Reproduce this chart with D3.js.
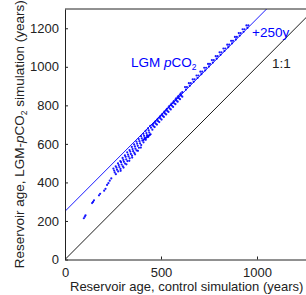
<!DOCTYPE html>
<html><head><meta charset="utf-8">
<script src="https://cdn.jsdelivr.net/npm/d3@7"></script>
<style>html,body{margin:0;padding:0;background:#fff;overflow:hidden}</style>
</head><body><svg id="c" width="306" height="295"></svg>
<script>
// Data
const xTicks = [0, 500, 1000];
const yTicks = [0, 200, 400, 600, 800, 1000, 1200];
const axisMax = 1300;
const offsetYears = 250;
const ctrlAge = [
  98,103,107,141,146,151,177,183,204,211,219,226,233,241,
  252,264,276,288,300,312,324,336,348,360,372,384,396,408,420,432,444,
  256,268,280,292,304,316,328,340,352,364,376,388,400,412,424,436,448,
  259,271,283,295,307,319,331,343,355,367,379,391,403,415,427,439,
  265,277,289,301,313,325,337,349,361,373,385,397,409,421,433,
  290,305,320,335,350,365,380,395,
  408,413,418,423,428,433,438,443,446,
  455,467,479,491,503,515,527,539,551,563,575,587,599,611,
  461,473,485,497,509,521,533,545,557,569,581,593,605,
  455,467,479,491,503,515,527,539,551,563,575,587,599,611,
  459,471,483,495,507,519,531,543,555,567,579,591,603,
  625,645,665,685,705,725,745,765,785,805,825,845,865,885,905,925,945,
  635,655,675,695,715,735,755,775,795,815,835,855,875,895,915,935,955,
  630,650,670,690,710,730,750,770,790,810,830,850,870,890,910,930,950
];
const lgmAge = [
  214,222,229,293,299,307,333,341,357,367,387,396,409,421,
  472,484,499,511,527,540,556,568,584,597,612,625,640,652,668,680,694,
  462,477,490,505,517,533,545,560,573,587,601,614,629,642,656,670,684,
  452,466,480,493,507,520,535,548,562,575,590,603,617,631,645,659,
  443,457,470,484,498,511,525,539,553,566,580,594,608,621,636,
  460,477,494,512,529,546,564,581,
  620,624,628,632,636,640,644,648,650,
  698,711,724,737,750,764,777,790,803,816,830,843,856,869,
  692,705,718,732,745,758,771,784,798,811,824,837,850,
  674,687,700,713,726,740,753,766,779,792,806,819,832,845,
  704,717,730,743,756,769,782,796,809,822,836,849,862,
  895,915,935,955,975,995,1015,1035,1055,1075,1095,1115,1135,1155,1175,1195,1215,
  895,915,935,955,975,995,1015,1035,1055,1075,1095,1115,1135,1155,1175,1195,1215,
  882,902,922,942,962,982,1002,1022,1042,1062,1082,1102,1122,1142,1162,1182,1202
];

const svg = d3.select("#c");
const x = d3.scaleLinear().domain([0, axisMax]).range([65, 65 + axisMax * 0.192]);
const y = d3.scaleLinear().domain([0, axisMax]).range([259.5, 9]);
const font = "'Liberation Sans', Arial, Helvetica, sans-serif";

svg.append("defs").append("clipPath").attr("id", "clip")
  .append("rect").attr("x", x(0)).attr("y", y(axisMax))
  .attr("width", x(axisMax) - x(0)).attr("height", y(0) - y(axisMax));

const plot = svg.append("g").attr("clip-path", "url(#clip)");

plot.append("line")
  .attr("x1", x(0)).attr("y1", y(0)).attr("x2", x(axisMax)).attr("y2", y(axisMax))
  .attr("stroke", "#000").attr("stroke-width", 0.9);
plot.append("line")
  .attr("x1", x(0)).attr("y1", y(offsetYears))
  .attr("x2", x(axisMax - offsetYears)).attr("y2", y(axisMax))
  .attr("stroke", "#0000ff").attr("stroke-width", 0.9);

const pts = ctrlAge.map((v, i) => [v, lgmAge[i]]);
plot.selectAll("circle.pt").data(pts).enter().append("circle")
  .attr("class", "pt")
  .attr("cx", d => x(d[0])).attr("cy", d => y(d[1]))
  .attr("r", 1.1).attr("fill", "#0000ff").attr("fill-opacity", 0.9);

const fmt = d3.format("d");
const xAxis = d3.axisBottom(x).tickValues(xTicks).tickFormat(fmt).tickSizeInner(-3).tickSizeOuter(0).tickPadding(6);
const yAxis = d3.axisLeft(y).tickValues(yTicks).tickFormat(fmt).tickSizeInner(-3).tickSizeOuter(0).tickPadding(6);

const gx = svg.append("g").attr("transform", `translate(0,${y(0)})`).call(xAxis);
const gy = svg.append("g").attr("transform", `translate(${x(0)},0)`).call(yAxis);
[gx, gy].forEach(g => {
  g.select(".domain").attr("stroke", "#222").attr("stroke-width", 1);
  g.selectAll(".tick line").attr("stroke", "#222");
  g.selectAll(".tick text").attr("font-family", font).attr("font-size", 13).attr("fill", "#222");
});
gx.selectAll(".tick text").attr("dy", "0.85em");
svg.append("line").attr("x1", x(0)).attr("x2", x(axisMax)).attr("y1", y(axisMax)).attr("y2", y(axisMax))
  .attr("stroke", "#222").attr("stroke-width", 1);
svg.append("line").attr("x1", x(axisMax)).attr("x2", x(axisMax)).attr("y1", y(axisMax)).attr("y2", y(0))
  .attr("stroke", "#222").attr("stroke-width", 1);

svg.append("text").attr("x", 70).attr("y", 291)
  .attr("font-family", font).attr("font-size", 13).attr("fill", "#222")
  .text("Reservoir age, control simulation (years)");

const yl = svg.append("text").attr("transform", `translate(24,${(y(0) + y(axisMax)) / 2}) rotate(-90)`)
  .attr("text-anchor", "middle").attr("font-family", font).attr("font-size", 13.5).attr("fill", "#222");
yl.append("tspan").text("Reservoir age, LGM-");
yl.append("tspan").attr("font-style", "italic").text("p");
yl.append("tspan").text("CO");
yl.append("tspan").attr("font-size", 8.5).attr("dy", 3).text("2");
yl.append("tspan").attr("dy", -3).text(" simulation (years)");

const lg = svg.append("text").attr("x", 131).attr("y", 67)
  .attr("font-family", font).attr("font-size", 13.5).attr("fill", "#0000ff");
lg.append("tspan").text("LGM ");
lg.append("tspan").attr("font-style", "italic").text("p");
lg.append("tspan").text("CO");
lg.append("tspan").attr("font-size", 8.5).attr("dy", 3).text("2");

svg.append("text").attr("x", 252).attr("y", 37)
  .attr("font-family", font).attr("font-size", 13.5).attr("fill", "#0000ff").text("+250y");
svg.append("text").attr("x", 272).attr("y", 68)
  .attr("font-family", font).attr("font-size", 13.5).attr("fill", "#222").text("1:1");
</script>
</body></html>
